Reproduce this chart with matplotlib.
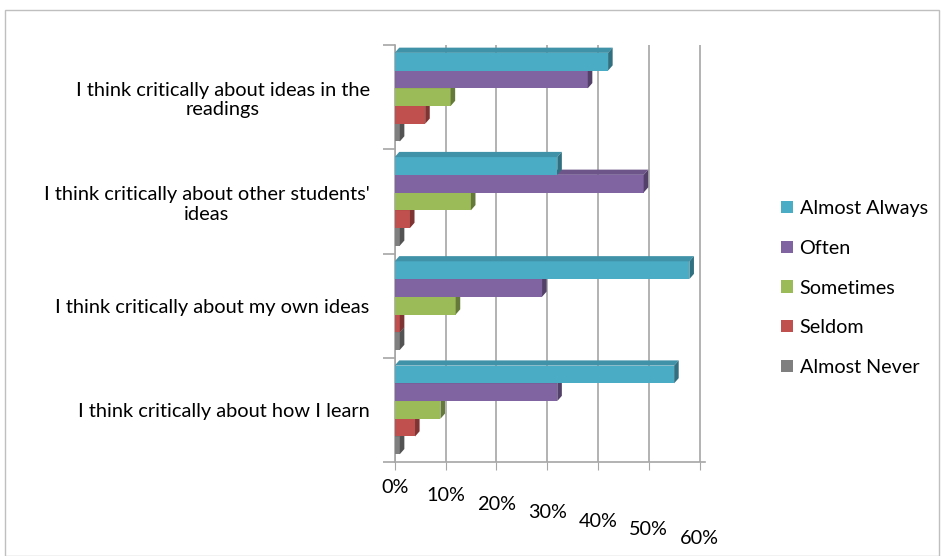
import matplotlib
matplotlib.use("Agg")
import matplotlib.pyplot as plt
from matplotlib.patches import Polygon, Rectangle, Patch
from matplotlib.transforms import ScaledTranslation
import matplotlib.colors as mcolors
import numpy as np

plt.rcParams['font.family'] = ['Lato', 'DejaVu Sans']

categories = [
    "I think critically about ideas in the\nreadings",
    "I think critically about other students'\nideas",
    "I think critically about my own ideas",
    "I think critically about how I learn",
]
series_names = ["Almost Always", "Often", "Sometimes", "Seldom", "Almost Never"]
almost_always = [42, 32, 58, 55]
often = [38, 49, 29, 32]
sometimes = [11, 15, 12, 9]
seldom = [6, 3, 1, 4]
almost_never = [1, 1, 1, 1]
x_ticks = [0, 10, 20, 30, 40, 50, 60]
x_tick_labels = ["0%", "10%", "20%", "30%", "40%", "50%", "60%"]

series = [almost_always, often, sometimes, seldom, almost_never]
colors = ["#4BACC6", "#8064A2", "#9BBB59", "#C0504D", "#7F7F7F"]

def shade(c, f):
    r, g, b = mcolors.to_rgb(c)
    return (r * f, g * f, b * f)

fig = plt.figure(figsize=(9.42, 5.56), dpi=100)
ax = fig.add_axes([0.419, 0.169, 0.329, 0.750])

h = 0.17
offsets = [-0.34, -0.17, 0.0, 0.17, 0.34]
dx, dy = 0.9, 0.05
y = np.arange(len(categories))

# draw from visually lowest bar to highest so faces overlap correctly
for si in reversed(range(len(series))):
    vals = series[si]
    col = colors[si]
    for ci, v in enumerate(vals):
        c = y[ci] + offsets[si]
        top = c - h / 2
        bot = c + h / 2
        ax.barh(c, v, height=h, color=col, edgecolor='none', zorder=3 + (5 - si))
        topface = Polygon([(0, top), (v, top), (v + dx, top - dy), (dx, top - dy)],
                          closed=True, facecolor=shade(col, 0.85), edgecolor='none',
                          zorder=3 + (5 - si))
        side = Polygon([(v, top), (v + dx, top - dy), (v + dx, bot - dy), (v, bot)],
                       closed=True, facecolor=shade(col, 0.65), edgecolor='none',
                       zorder=3 + (5 - si))
        ax.add_patch(topface)
        ax.add_patch(side)

ax.set_xlim(0, 61)
ax.set_ylim(len(categories) - 0.5, -0.5)
ax.set_xticks(x_ticks)
ax.set_xticklabels(x_tick_labels, fontsize=14.3, color="#000000")
ax.set_yticks(y)
ax.set_yticklabels(categories, fontsize=14.4, color="#000000", ha='right',
                   multialignment='center')
ax.set_yticks(np.arange(-0.5, len(categories), 1.0), minor=True)
ax.tick_params(axis='y', which='major', length=0, pad=18)
ax.tick_params(axis='y', which='minor', length=9, color="#A6A6A6", width=1.2)
ax.tick_params(axis='x', which='major', length=6, color="#A6A6A6", pad=6)

ax.grid(axis='x', color="#A6A6A6", linewidth=1.2, zorder=0)
ax.set_axisbelow(True)
for s in ['top', 'right']:
    ax.spines[s].set_visible(False)
for s in ['left', 'bottom']:
    ax.spines[s].set_color("#A6A6A6")
    ax.spines[s].set_linewidth(1.2)

# descending tick labels to echo the perspective floor
for i, t in enumerate(ax.xaxis.get_major_ticks()):
    t.label1.set_transform(t.label1.get_transform() +
                           ScaledTranslation(0, -i * 0.085, fig.dpi_scale_trans))

handles = [Patch(facecolor=c, edgecolor='none') for c in colors]
fig.legend(handles, series_names, loc='center left', bbox_to_anchor=(0.81, 0.482),
           frameon=False, fontsize=14.2, handlelength=0.6, handleheight=0.6,
           handletextpad=0.35, labelspacing=1.15)

fig.patches.append(Rectangle((0.005, 0.0), 0.992, 0.982, transform=fig.transFigure,
                             fill=False, edgecolor="#BFBFBF", linewidth=1.0))

fig.savefig("out.png", dpi=100, facecolor="white")
